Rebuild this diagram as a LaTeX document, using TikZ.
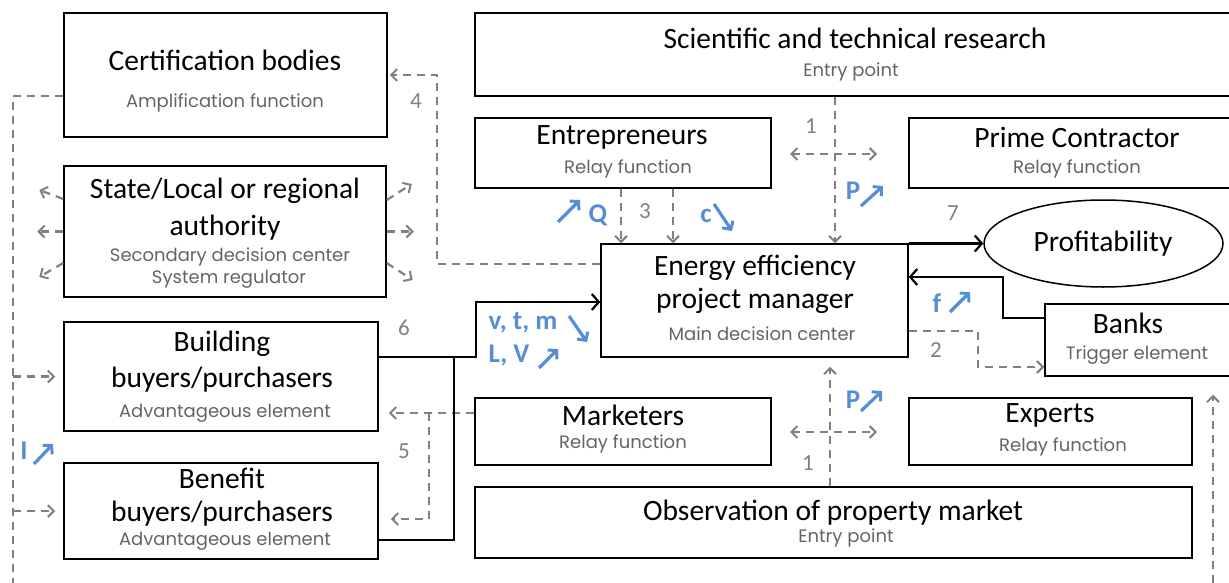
\documentclass[tikz,border=0pt]{standalone}
\usepackage{xcolor}
\usepackage{fontspec}
\setmainfont{Carlito}
\newfontfamily\subfont{Poppins}
\usepackage{tikz}
\usetikzlibrary{arrows.meta,positioning,shapes}
\definecolor{linegray}{RGB}{128,128,128}
\definecolor{subgray}{RGB}{100,100,100}
\definecolor{keyblue}{RGB}{85,142,213}

\begin{document}
\begin{tikzpicture}[
		x=1pt,y=-1pt,
		box/.style={draw,line width=1.5pt,inner sep=0pt},
		ttl/.style={font=\fontsize{29.5}{32}\selectfont,inner sep=0pt},
		sub/.style={font=\subfont\fontsize{18}{20}\selectfont,text=subgray,inner sep=0pt},
		num/.style={font=\fontsize{23}{24}\selectfont,text=linegray,inner sep=0pt},
		key/.style={font=\bfseries\fontsize{27}{28}\selectfont,text=keyblue,inner sep=0pt},
		trend/.style={draw=keyblue,line width=3.2pt,-{Straight Barb[length=6pt,width=13pt,line width=3pt]}},
		dline/.style={draw=linegray,line width=2.2pt,dash pattern=on 8pt off 6pt,-{Straight Barb[length=6pt,width=12pt,line width=2pt]}},
		sline/.style={draw=black,line width=2.2pt,-{Straight Barb[length=7pt,width=16pt,line width=2.2pt]}}]
		\useasboundingbox (0,0) rectangle (1229,583);

		% actors
		\node[box,minimum width=323pt,minimum height=124pt] (cert) at (225.5,75) {};
		\node[box,minimum width=322pt,minimum height=131pt] (state) at (225,231.5) {};
		\node[box,minimum width=760pt,minimum height=83pt] (sci) at (855,54.5) {};
		\node[box,minimum width=296pt,minimum height=70pt] (entre) at (623,153) {};
		\node[box,minimum width=326pt,minimum height=70pt] (prime) at (1072,153) {};
		\node[box,minimum width=307pt,minimum height=113pt] (eem) at (754.5,300.5) {};
		\node[draw,ellipse,line width=1.5pt,minimum width=239pt,minimum height=87pt,inner sep=0pt] (prof) at (1103.5,243.5) {};
		\node[box,minimum width=190pt,minimum height=72pt] (banks) at (1140,340) {};
		\node[box,minimum width=314pt,minimum height=109pt] (bbuy) at (221,376.5) {};
		\node[box,minimum width=314pt,minimum height=96pt] (bben) at (221,511) {};
		\node[box,minimum width=296pt,minimum height=67pt] (mkt) at (623,431.5) {};
		\node[box,minimum width=283pt,minimum height=67pt] (expert) at (1050.5,431.5) {};
		\node[box,minimum width=717pt,minimum height=71pt] (obs) at (833.5,522.5) {};

		% texts
		\node[ttl] (certT) at (225,60) {Certification bodies};
		\node[sub] (certS) at (225,103) {Amplification function};
		\node[ttl] (stateT1) at (225,191) {State/Local or regional};
		\node[ttl] (stateT2) at (225,228) {authority};
		\node[sub] (stateS1) at (230,257) {Secondary decision center};
		\node[sub] (stateS2) at (229,279) {System regulator};
		\node[ttl] (sciT) at (855,38) {Scientific and technical research};
		\node[sub] (sciS) at (851,72) {Entry point};
		\node[ttl] (entreT) at (622,137) {Entrepreneurs};
		\node[sub] (entreS) at (628,169) {Relay function};
		\node[ttl] (primeT) at (1077,137) {Prime Contractor};
		\node[sub] (primeS) at (1077,169) {Relay function};
		\node[ttl] (eemT1) at (755,268) {Energy efficiency};
		\node[ttl] (eemT2) at (755,301) {project manager};
		\node[sub] (eemS) at (762,334) {Main decision center};
		\node[ttl] (profT) at (1103,244) {Profitability};
		\node[ttl] (banksT) at (1128,323) {Banks};
		\node[sub] (banksS) at (1137,355) {Trigger element};
		\node[ttl] (bbuyT1) at (222,344) {Building};
		\node[ttl] (bbuyT2) at (222,380) {buyers/purchasers};
		\node[sub] (bbuyS) at (225,413) {Advantageous element};
		\node[ttl] (bbenT1) at (222,478) {Benefit};
		\node[ttl] (bbenT2) at (222,514) {buyers/purchasers};
		\node[sub] (bbenS) at (225,541) {Advantageous element};
		\node[ttl] (mktT) at (623,415) {Marketers};
		\node[sub] (mktS) at (623,444) {Relay function};
		\node[ttl] (expertT) at (1050,415) {Experts};
		\node[sub] (expertS) at (1063,447) {Relay function};
		\node[ttl] (obsT) at (833,513) {Observation of property market};
		\node[sub] (obsS) at (846,538) {Entry point};

		% routing points
		\coordinate (railL) at (13,583);
		\coordinate (railR) at (1213,583);
		\coordinate (route4) at (437,75);
		\coordinate (p1) at (835,0);
		\coordinate (p2) at (830,0);
		\coordinate (q1) at (621,0);
		\coordinate (q2) at (673,0);
		\coordinate (h1a) at (790,154);
		\coordinate (h1b) at (877,154);
		\coordinate (h2a) at (790,432);
		\coordinate (h2b) at (877,432);
		\coordinate (join6) at (476,357);
		\coordinate (join5) at (454,357);
		\coordinate (bend7) at (1003,277);
		\coordinate (bend2) at (978,367);
		\coordinate (l5) at (429,413);
		\coordinate (b5) at (429,519);

		% dashed links
		\draw[dline,-] ([yshift=-21pt]cert.west) -| (railL);
		\draw[dline,shorten >=8pt] (railL |- bbuy.west) -- (bbuy.west);
		\draw[dline,shorten >=8pt] (railL |- bben.west) -- (bben.west);
		\draw[dline] ([yshift=36.5pt]eem.west) -| (route4) -- ([xshift=2pt]cert.east);
		\draw[dline] ([yshift=32.5pt]state.west) -- ++(-24,-9);
		\draw[dline] (state.west) -- ++(-26,0);
		\draw[dline] ([yshift=-31.5pt]state.west) -- ++(-24,14);
		\draw[dline] ([yshift=31.5pt]state.east) -- ++(25,-16);
		\draw[dline] (state.east) -- ++(27,0);
		\draw[dline] ([yshift=-31.5pt]state.east) -- ++(26,17);
		\draw[dline] (sci.south -| p1) -- (eem.north -| p1);
		\draw[dline,{Straight Barb[length=6pt,width=12pt,line width=2pt]}-{Straight Barb[length=6pt,width=12pt,line width=2pt]}] (h1a) -- (h1b);
		\draw[dline] (entre.south -| q1) -- (eem.north -| q1);
		\draw[dline] (entre.south -| q2) -- (eem.north -| q2);
		\draw[dline] ([yshift=-30.5pt]eem.east) -| (bend2) -- (banks.west |- bend2);
		\draw[dline,shorten >=10pt] (mkt.west |- l5) -- (bbuy.east |- l5);
		\draw[dline,shorten >=12pt] (l5) |- (bben.east |- b5);
		\draw[dline,shorten >=9pt] (obs.north -| p2) -- (eem.south -| p2);
		\draw[dline,{Straight Barb[length=6pt,width=12pt,line width=2pt]}-{Straight Barb[length=6pt,width=12pt,line width=2pt]}] (h2a) -- (h2b);
		\draw[dline,shorten >=18pt] (railR) -- (banks.south -| railR);

		% solid links
		\draw[sline] ([yshift=19.5pt]bbuy.east) -- (join6) |- ([yshift=-1.5pt]eem.west);
		\draw[sline,-] ([yshift=-29pt]bben.east) -| (join5);
		\draw[sline] (eem.east |- prof.west) -- (prof.west);
		\draw[sline] ([yshift=22pt]banks.west) -| (bend7) -- (eem.east |- bend7);

		% numbers
		\node[num] (n4) at (416,101) {4};
		\node[num] (n1a) at (811,126) {1};
		\node[num] (n3) at (645,211) {3};
		\node[num] (n7) at (953,213) {7};
		\node[num] (n6) at (404,328) {6};
		\node[num] (n2) at (936,350) {2};
		\node[num] (n5) at (404,451) {5};
		\node[num] (n1b) at (808,463) {1};

		% variations
		\node[key] (q) at (598,215) {Q};
		\draw[trend] (558,222) -- (580,200);
		\node[key] (c) at (706,216) {c};
		\draw[trend] (714,204) -- (732,231);
		\node[key] (pa) at (853,191) {P};
		\draw[trend] (861,206) -- (883,186);
		\node[key] (vtm) at (523,323) {v, t, m};
		\draw[trend] (569,316) -- (587,342);
		\node[key] (lv) at (509,356) {L, V};
		\draw[trend] (539,368) -- (558,349);
		\node[key] (f) at (937,303) {f};
		\draw[trend] (950,312) -- (970,292);
		\node[key] (pb) at (853,400) {P};
		\draw[trend] (861,411) -- (882,391);
		\node[key] (i) at (24,451) {I};
		\draw[trend] (34,464) -- (53,444);
\end{tikzpicture}
\end{document}
